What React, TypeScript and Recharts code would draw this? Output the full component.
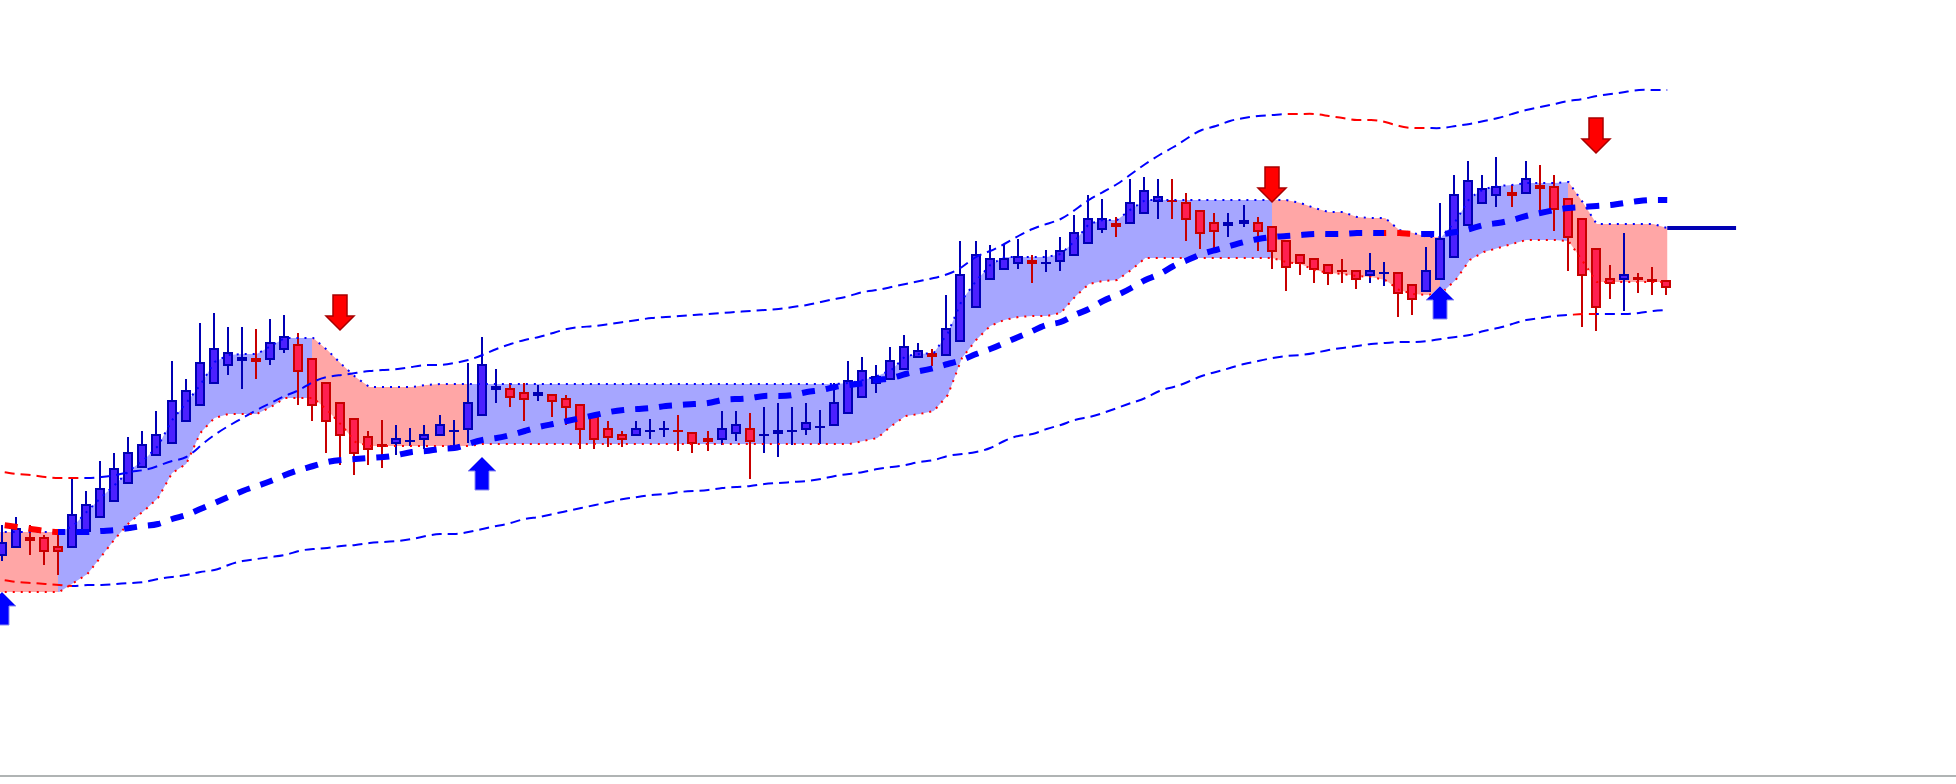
import { ComposedChart, Area, Bar, Line, XAxis, YAxis, ReferenceLine } from 'recharts';

const WIDTH = 1956;
const HEIGHT = 784;

// x axis: candle index. one candle is about 14.1px wide on the reference
const CANDLE_STEP = 14.105;
const CANDLE_ORIGIN = 2.85;

const opens = [
  228, 236, 247, 247, 238, 236, 252, 266, 282, 300,
  316, 328, 340, 362, 378, 400, 418, 423, 426, 424,
  434, 440, 426, 402, 382, 366, 348, 340, 340, 342,
  344, 348, 352, 354, 368, 394, 396, 392, 388, 390,
  386, 380, 368, 356, 350, 348, 352, 354, 354, 352,
  346, 344, 350, 356, 348, 350, 352, 354, 357, 358,
  370, 386, 400, 404, 414, 426, 431, 428, 442, 476,
  504, 514, 520, 524, 520, 522, 528, 540, 554, 561,
  560, 570, 582, 584, 582, 574, 562, 558, 560, 562,
  558, 544, 530, 526, 520, 514, 514, 508, 510, 512,
  500, 492, 504, 526, 558, 580, 588, 592, 590, 599,
  598, 586, 566, 536, 506, 504, 507, 505, 504,
];
const closes = [
  242, 256, 243, 232, 232, 270, 280, 296, 316, 332,
  340, 350, 384, 394, 422, 436, 432, 427, 422, 442,
  448, 412, 378, 362, 348, 330, 334, 337, 346, 344,
  350, 360, 354, 382, 420, 398, 386, 384, 392, 382,
  376, 354, 344, 346, 344, 356, 354, 356, 352, 340,
  342, 356, 360, 342, 350, 354, 354, 362, 358, 382,
  404, 414, 408, 424, 438, 434, 427, 456, 510, 530,
  526, 526, 528, 520, 522, 534, 552, 566, 566, 557,
  582, 594, 588, 582, 564, 550, 552, 562, 564, 552,
  532, 516, 520, 514, 510, 512, 504, 514, 512, 490,
  484, 514, 546, 590, 604, 596, 598, 588, 606, 595,
  574, 546, 508, 476, 500, 510, 504, 502, 496,
];
const highs = [
  259, 267, 259, 249, 252, 305, 293, 323, 331, 347,
  353, 373, 423, 405, 461, 471, 457, 457, 455, 465,
  469, 451, 426, 402, 382, 366, 353, 364, 359, 356,
  359, 369, 364, 421, 447, 415, 401, 401, 399, 390,
  389, 380, 368, 363, 353, 363, 365, 363, 369, 352,
  353, 373, 373, 371, 377, 381, 377, 381, 374, 401,
  423, 427, 419, 437, 449, 441, 435, 489, 543, 543,
  539, 539, 545, 529, 534, 547, 569, 589, 585, 567,
  605, 607, 605, 605, 591, 574, 571, 571, 579, 567,
  558, 544, 530, 526, 520, 525, 514, 531, 522, 512,
  500, 537, 581, 609, 623, 609, 627, 599, 623, 619,
  609, 586, 566, 536, 519, 551, 511, 517, 504,
];
const lows = [
  223, 236, 229, 219, 209, 236, 252, 266, 282, 300,
  316, 328, 340, 362, 378, 400, 409, 395, 405, 419,
  431, 379, 363, 331, 319, 309, 319, 316, 329, 338,
  335, 348, 337, 341, 368, 381, 377, 363, 383, 367,
  359, 335, 335, 337, 337, 348, 345, 347, 333, 331,
  333, 339, 343, 305, 331, 327, 339, 349, 340, 358,
  370, 386, 391, 404, 414, 426, 418, 428, 442, 476,
  504, 514, 515, 501, 512, 513, 528, 540, 551, 547,
  560, 570, 565, 565, 543, 535, 536, 547, 557, 533,
  515, 493, 509, 501, 499, 501, 495, 501, 498, 467,
  469, 492, 504, 526, 558, 580, 577, 577, 590, 574,
  553, 513, 457, 453, 485, 473, 491, 489, 489,
];

// indicator series below start one step left of the first candle, so they run off the edge
const upperBand = [
  252,
  252, 252, 252, 252, 252, 258, 273, 287, 300, 314,
  324, 338, 364, 381, 399, 422, 429, 430, 430, 438,
  446, 446, 446, 434, 420, 407, 397, 397, 397, 397,
  399, 400, 400, 400, 400, 400, 400, 400, 400, 400,
  400, 400, 400, 400, 400, 400, 400, 400, 400, 400,
  400, 400, 400, 400, 400, 400, 400, 400, 400, 400,
  401, 404, 408, 414, 428, 430, 431, 451, 484, 503,
  519, 527, 527, 527, 527, 530, 543, 560, 564, 564,
  575, 584, 584, 584, 584, 584, 584, 584, 584, 584,
  584, 584, 581, 576, 572, 572, 567, 566, 566, 554,
  551, 547, 547, 563, 586, 595, 598, 599, 601, 601,
  601, 602, 582, 560, 560, 560, 560, 560, 556,
];
const lowerBand = [
  192,
  192, 192, 192, 192, 192, 201, 210, 228, 246, 262,
  273, 286, 311, 320, 351, 366, 370, 370, 370, 377,
  386, 386, 386, 374, 359, 342, 338, 338, 338, 338,
  338, 338, 338, 338, 340, 340, 340, 340, 340, 340,
  340, 340, 340, 340, 340, 340, 340, 340, 340, 340,
  340, 340, 340, 340, 340, 340, 340, 340, 340, 340,
  340, 343, 346, 358, 368, 370, 373, 389, 426, 444,
  458, 464, 467, 468, 468, 471, 487, 500, 503, 504,
  514, 526, 526, 526, 526, 526, 526, 526, 526, 526,
  526, 522, 520, 514, 511, 510, 508, 507, 504, 494,
  490, 489, 491, 504, 524, 532, 536, 540, 544, 544,
  544, 543, 523, 502, 502, 502, 502, 502, 502,
];
const midLine = [
  260,
  259, 257, 255, 253, 252, 252, 252, 253, 254, 256,
  258, 260, 265, 269, 275, 281, 287, 293, 298, 303,
  309, 314, 318, 322, 324, 325, 326, 327, 329, 332,
  333, 335, 336, 340, 344, 346, 349, 353, 357, 360,
  363, 366, 369, 372, 374, 375, 376, 378, 379, 380,
  381, 384, 385, 386, 388, 388, 389, 392, 394, 397,
  399, 401, 404, 406, 410, 413, 416, 420, 424, 430,
  435, 441, 447, 453, 459, 462, 469, 475, 483, 489,
  496, 504, 510, 518, 524, 530, 534, 538, 542, 545,
  547, 548, 549, 550, 550, 550, 551, 551, 551, 551,
  550, 550, 550, 552, 555, 559, 561, 564, 568, 571,
  574, 576, 577, 578, 579, 581, 583, 584, 584,
];
const outerTop = [
  313,
  312, 310, 309, 307, 306, 306, 306, 307, 309, 312,
  314, 318, 323, 327, 338, 349, 358, 366, 374, 381,
  388, 394, 402, 407, 409, 411, 413, 414, 415, 417,
  419, 419, 421, 424, 429, 435, 440, 444, 447, 451,
  455, 457, 458, 460, 462, 464, 466, 467, 468, 469,
  470, 471, 472, 473, 474, 475, 477, 479, 482, 485,
  488, 492, 494, 497, 500, 503, 506, 510, 517, 527,
  533, 540, 548, 555, 560, 565, 574, 584, 592, 600,
  610, 620, 629, 637, 646, 654, 658, 663, 666, 668,
  669, 670, 670, 670, 668, 666, 664, 664, 662, 658,
  656, 656, 656, 658, 660, 663, 666, 670, 674, 677,
  680, 683, 685, 688, 690, 692, 694, 694, 694,
];
const outerBottom = [
  205,
  204, 202, 201, 200, 199, 198, 199, 199, 200, 201,
  202, 205, 207, 209, 212, 214, 219, 223, 225, 227,
  229, 233, 235, 236, 238, 239, 241, 242, 243, 245,
  248, 250, 250, 252, 255, 258, 261, 265, 267, 270,
  273, 276, 279, 282, 285, 287, 289, 290, 292, 293,
  294, 296, 297, 298, 300, 301, 302, 303, 305, 308,
  310, 312, 315, 317, 319, 322, 324, 328, 330, 332,
  336, 343, 348, 350, 355, 359, 364, 367, 371, 376,
  381, 386, 393, 397, 402, 408, 412, 416, 420, 423,
  426, 428, 429, 431, 434, 436, 438, 440, 441, 442,
  442, 443, 445, 447, 449, 453, 456, 460, 464, 466,
  468, 469, 470, 470, 470, 470, 471, 473, 474,
];

// candle index ranges where a series turns red
const bandRedZones = [[-1, 4], [22, 33], [90, 102], [111, 119]];
const midRedZones = [[-1, 4], [98, 100]];
const topRedZones = [[-1, 5.5], [91, 101]];
const bottomRedZones = [[-1, 5], [111, 113]];

const upArrowAt = [0, 34, 102];
const upArrowPrice = [192, 327, 498];
const downArrowAt = [24, 90, 113];
const downArrowPrice = [454, 582, 631];

const lastLevel = 556;
const lastLevelEnd = 122.88;

const rows = upperBand.map((upper, n) => {
  const i = n - 1;
  const up = upArrowAt.indexOf(i);
  const down = downArrowAt.indexOf(i);
  return {
    i,
    band: [lowerBand[n], upper],
    upper,
    lower: lowerBand[n],
    mid: midLine[n],
    top: outerTop[n],
    bottom: outerBottom[n],
    open: i >= 0 ? opens[i] : null,
    close: i >= 0 ? closes[i] : null,
    high: i >= 0 ? highs[i] : null,
    low: i >= 0 ? lows[i] : null,
    range: i >= 0 ? [lows[i], highs[i]] : null,
    upArrow: up >= 0 ? upArrowPrice[up] : null,
    downArrow: down >= 0 ? downArrowPrice[down] : null,
  };
});

// the reference snaps candles to even pixels
const snap = (px: number) => Math.floor(px / 2) * 2;
const indexToPx = (i: number) => snap(CANDLE_ORIGIN - 0.05 + CANDLE_STEP * i);

function ZoneGradient({ id, zones, base, alt }: { id: string; zones: number[][]; base: string; alt: string }) {
  const stops: { at: number; color: string }[] = [];
  zones.forEach(([from, to]) => {
    const a = Math.max(indexToPx(from) / WIDTH, 0);
    const b = indexToPx(to) / WIDTH;
    stops.push({ at: a, color: base }, { at: a, color: alt }, { at: b, color: alt }, { at: b, color: base });
  });
  return (
    <linearGradient id={id} gradientUnits="userSpaceOnUse" x1={0} y1={0} x2={WIDTH} y2={0}>
      <stop offset={0} stopColor={base} />
      {stops.map((s, k) => (
        <stop key={k} offset={s.at} stopColor={s.color} />
      ))}
      <stop offset={1} stopColor={base} />
    </linearGradient>
  );
}

function Candle(props: any) {
  const { x, y, width, height, payload } = props;
  if (payload == null || payload.high == null) return null;
  const { open, close, high, low } = payload;
  const top = Math.min(y, y + height);
  const k = Math.abs(height) / (high - low);
  const yOf = (v: number) => top + (high - v) * k;
  const cx = snap(x + width / 2);
  const rising = close >= open;
  const edge = rising ? '#0000b4' : '#c80000';
  const fill = rising ? '#4b20ff' : '#ff2050';
  const bodyTop = Math.round(yOf(Math.max(open, close)));
  const bodyBottom = Math.round(yOf(Math.min(open, close)));
  const bodyH = Math.max(bodyBottom - bodyTop, 2);
  return (
    <g>
      <rect x={cx - 1} y={yOf(high)} width={2} height={yOf(low) - yOf(high)} fill={edge} />
      <rect x={cx - 5} y={bodyTop} width={10} height={bodyH} fill={edge} />
      {bodyH > 4 && <rect x={cx - 3} y={bodyTop + 2} width={6} height={bodyH - 4} fill={fill} />}
    </g>
  );
}

function UpArrow(props: any) {
  const { cx, cy, key } = props;
  if (cy == null || props.value == null) return <g key={key} />;
  const x = snap(cx);
  const pts = [
    [x, cy], [x + 14, cy + 14], [x + 7, cy + 14], [x + 7, cy + 33],
    [x - 7, cy + 33], [x - 7, cy + 14], [x - 14, cy + 14],
  ];
  return <polygon key={key} points={pts.map((p) => p.join(',')).join(' ')} fill="#0000ff" stroke="#8c8cf0" strokeWidth={1} />;
}

function DownArrow(props: any) {
  const { cx, cy, key } = props;
  if (cy == null || props.value == null) return <g key={key} />;
  const x = snap(cx);
  const pts = [
    [x, cy], [x + 14, cy - 14], [x + 7, cy - 14], [x + 7, cy - 35],
    [x - 7, cy - 35], [x - 7, cy - 14], [x - 14, cy - 14],
  ];
  return <polygon key={key} points={pts.map((p) => p.join(',')).join(' ')} fill="#ff0000" stroke="#a80000" strokeWidth={1.5} />;
}

export default function App() {
  return (
    <div style={{ position: 'absolute', left: 0, top: 0, width: WIDTH, height: HEIGHT, overflow: 'hidden', background: '#fff' }}>
      <ComposedChart width={WIDTH} height={HEIGHT} data={rows} margin={{ top: 0, right: 0, bottom: 0, left: 0 }}>
        <defs>
          <ZoneGradient id="bandFill" zones={bandRedZones} base="#a6a6ff" alt="#ffa6a6" />
          <ZoneGradient id="midStroke" zones={midRedZones} base="#0000ff" alt="#ff0000" />
          <ZoneGradient id="topStroke" zones={topRedZones} base="#0000ff" alt="#ff0000" />
          <ZoneGradient id="bottomStroke" zones={bottomRedZones} base="#0000ff" alt="#ff0000" />
        </defs>
        <XAxis
          dataKey="i"
          type="number"
          hide
          allowDataOverflow
          domain={[-CANDLE_ORIGIN / CANDLE_STEP, (WIDTH - CANDLE_ORIGIN) / CANDLE_STEP]}
        />
        <YAxis type="number" hide domain={[0, HEIGHT]} />

        <ReferenceLine y={8} stroke="#b0b4b4" strokeWidth={2} />

        <Area dataKey="band" type="linear" fill="url(#bandFill)" fillOpacity={1} stroke="none" dot={false} activeDot={false} isAnimationActive={false} />
        <Line dataKey="top" type="natural" stroke="url(#topStroke)" strokeWidth={2} strokeDasharray="10 6" dot={false} activeDot={false} isAnimationActive={false} />
        <Line dataKey="bottom" type="natural" stroke="url(#bottomStroke)" strokeWidth={2} strokeDasharray="10 6" dot={false} activeDot={false} isAnimationActive={false} />

        <Bar dataKey="range" barSize={10} shape={Candle} isAnimationActive={false} />

        <Line dataKey="upper" type="linear" stroke="#0000ff" strokeWidth={2} strokeDasharray="2 6" dot={false} activeDot={false} isAnimationActive={false} />
        <Line dataKey="lower" type="linear" stroke="#ff0000" strokeWidth={2} strokeDasharray="2 6" dot={false} activeDot={false} isAnimationActive={false} />
        <Line dataKey="mid" type="natural" stroke="url(#midStroke)" strokeWidth={6} strokeDasharray="13 11" strokeDashoffset={8} dot={false} activeDot={false} isAnimationActive={false} />

        <ReferenceLine segment={[{ x: 118, y: lastLevel }, { x: lastLevelEnd, y: lastLevel }]} stroke="#0000b4" strokeWidth={4} />

        <Line dataKey="upArrow" stroke="none" dot={UpArrow} activeDot={false} legendType="none" isAnimationActive={false} />
        <Line dataKey="downArrow" stroke="none" dot={DownArrow} activeDot={false} legendType="none" isAnimationActive={false} />
      </ComposedChart>
    </div>
  );
}
